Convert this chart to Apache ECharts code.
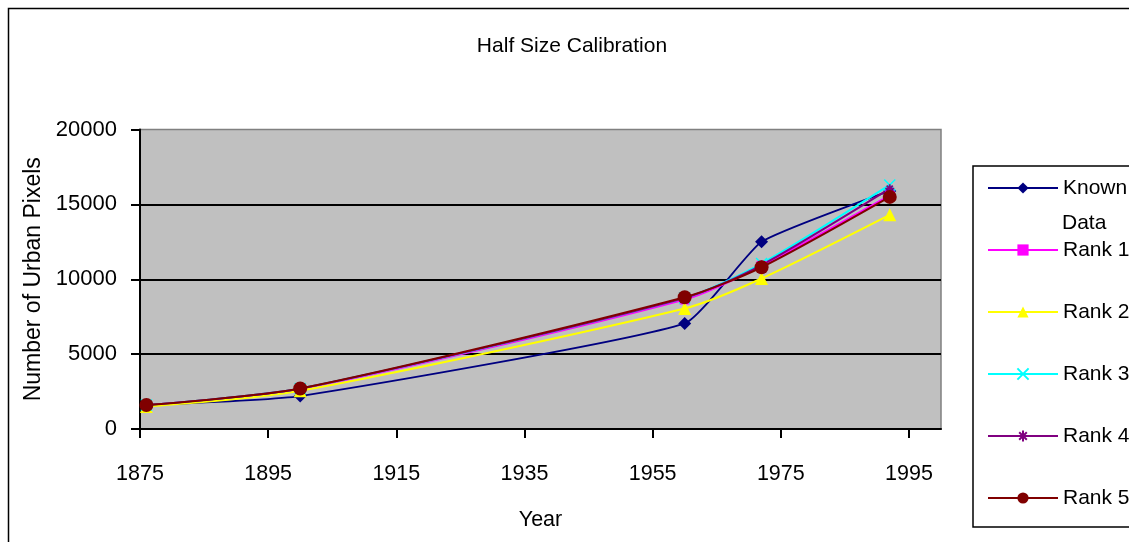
<!DOCTYPE html>
<html>
<head>
<meta charset="utf-8">
<title>Half Size Calibration</title>
<script src="https://cdn.jsdelivr.net/npm/echarts@6/dist/echarts.min.js"></script>
<style>
  html, body { margin: 0; padding: 0; background: #fff; }
  #chart { width: 1129px; height: 542px; }
</style>
</head>
<body>
<div id="chart"></div>
<script>
// Survey years and urban pixel counts per model
const years = [1876, 1900, 1960, 1972, 1992];
const knownData = [1600, 2200, 7050, 12500, 15900];
const rank1 = [1600, 2650, 8650, 10900, 15600];
const rank2 = [1500, 2550, 8050, 10050, 14300];
const rank3 = [1600, 2700, 8750, 11050, 16300];
const rank4 = [1600, 2700, 8750, 10950, 16050];
const rank5 = [1600, 2700, 8800, 10800, 15500];

const seriesNames = ['Known Data', 'Rank 1', 'Rank 2', 'Rank 3', 'Rank 4', 'Rank 5'];
const xTicks = [1875, 1895, 1915, 1935, 1955, 1975, 1995];
const yTicks = [0, 5000, 10000, 15000, 20000];

const FONT = "'Liberation Sans', Arial, sans-serif";

const pairs = vals => years.map((y, i) => [y, vals[i]]);

const crossPath = 'path://M0,0L10,10M10,0L0,10';
const starPath = 'path://M5,0L5,10M0,5L10,5M1.6,1.6L8.4,8.4M8.4,1.6L1.6,8.4';

function lineSeries(name, vals, color, symbol, size, extra) {
  return Object.assign({
    name: name,
    type: 'line',
    data: pairs(vals),
    smooth: 0.25,
    symbol: symbol,
    symbolSize: size,
    showAllSymbol: true,
    lineStyle: { color: color, width: 2 },
    itemStyle: { color: color, borderColor: color, borderWidth: 0 },
    emphasis: { disabled: true },
    z: 3
  }, extra || {});
}

const chart = echarts.init(document.getElementById('chart'), null, { renderer: 'canvas' });

chart.setOption({
  animation: false,
  backgroundColor: '#ffffff',
  title: {
    text: 'Half Size Calibration',
    left: 572,
    top: 36,
    padding: 0,
    textAlign: 'center',
    textStyle: { fontFamily: FONT, fontSize: 21, fontWeight: 'normal', color: '#000' }
  },
  grid: {
    left: 140,
    top: 129.5,
    right: 188,
    bottom: 113,
    show: true,
    backgroundColor: '#c0c0c0',
    borderColor: '#808080',
    borderWidth: 1.5
  },
  xAxis: {
    type: 'value',
    min: 1875,
    max: 2000,
    interval: 20,
    name: 'Year',
    nameLocation: 'middle',
    nameGap: 80,
    nameTextStyle: { fontFamily: FONT, fontSize: 21.5, color: '#000' },
    axisLine: { show: true, onZero: false, lineStyle: { color: '#000', width: 2 } },
    axisTick: { show: true, length: 9, customValues: xTicks, lineStyle: { color: '#000', width: 2 } },
    axisLabel: {
      customValues: xTicks,
      margin: 34,
      fontFamily: FONT,
      fontSize: 21.5,
      color: '#000',
      formatter: v => String(v)
    },
    splitLine: { show: false }
  },
  yAxis: {
    type: 'value',
    min: 0,
    max: 20000,
    interval: 5000,
    name: 'Number of Urban Pixels',
    nameLocation: 'middle',
    nameGap: 91,
    nameTextStyle: { fontFamily: FONT, fontSize: 23, color: '#000' },
    axisLine: { show: true, lineStyle: { color: '#000', width: 2 } },
    axisTick: { show: true, length: 9, customValues: yTicks, lineStyle: { color: '#000', width: 2 } },
    axisLabel: {
      customValues: yTicks,
      margin: 23,
      fontFamily: FONT,
      fontSize: 22,
      color: '#000',
      formatter: v => String(v)
    },
    splitLine: {
      show: true,
      showMinLine: false,
      showMaxLine: false,
      lineStyle: { color: '#000', width: 2 }
    }
  },
  legend: {
    orient: 'vertical',
    left: 973,
    top: 166,
    padding: [10, 10, 17, 14],
    itemWidth: 70,
    itemHeight: 14,
    itemGap: 38,
    borderColor: '#000',
    borderWidth: 1.5,
    backgroundColor: '#ffffff',
    selectedMode: false,
    data: seriesNames,
    formatter: name => name === 'Known Data' ? 'Known' : name,
    textStyle: { fontFamily: FONT, fontSize: 21, lineHeight: 24, color: '#000' }
  },
  graphic: [
    {
      type: 'rect',
      silent: true,
      z: 100,
      shape: { x: 8.5, y: 8.5, width: 1300, height: 800 },
      style: { fill: 'none', stroke: '#000', lineWidth: 1.5 }
    },
    {
      type: 'text',
      silent: true,
      z: 100,
      x: 1062,
      y: 223,
      style: {
        text: 'Data',
        font: "21px " + FONT,
        fill: '#000',
        verticalAlign: 'middle',
        align: 'left'
      }
    }
  ],
  series: [
    lineSeries(seriesNames[0], knownData, '#000080', 'diamond', 13, {
      smooth: 0.15,
      lineStyle: { color: '#000080', width: 1.8 }
    }),
    lineSeries(seriesNames[1], rank1, '#ff00ff', 'rect', 10),
    lineSeries(seriesNames[2], rank2, '#ffff00', 'triangle', 13),
    lineSeries(seriesNames[3], rank3, '#00ffff', crossPath, 11, {
      itemStyle: { color: 'none', borderColor: '#00ffff', borderWidth: 1.5 }
    }),
    lineSeries(seriesNames[4], rank4, '#800080', starPath, 9, {
      itemStyle: { color: 'none', borderColor: '#800080', borderWidth: 1.8 }
    }),
    lineSeries(seriesNames[5], rank5, '#800000', 'circle', 14)
  ]
});
</script>
</body>
</html>
